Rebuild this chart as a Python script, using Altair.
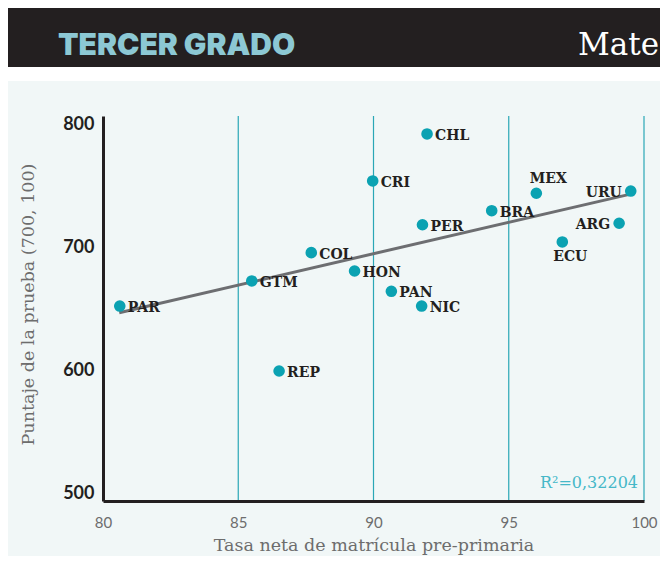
import altair as alt
import pandas as pd

# ---- data ----
names = ["PAR", "GTM", "REP", "COL", "HON", "CRI", "PAN", "NIC", "PER", "CHL",
         "BRA", "MEX", "ECU", "ARG", "URU"]
tasa = [80.62, 85.50, 86.51, 87.70, 89.30, 89.97, 90.66, 91.78, 91.81, 91.98,
        94.37, 96.02, 96.98, 99.08, 99.51]
puntaje = [652.8, 673.2, 600.0, 696.2, 681.3, 754.5, 664.8, 652.8, 718.9, 792.7,
           730.3, 744.5, 704.9, 720.1, 746.3]

trend_x = [80.6, 99.5]
trend_y = [647.4, 743.8]

grid_x = [85, 90, 95, 100]
x_ticks = [80, 85, 90, 95, 100]
y_ticks = [500, 600, 700, 800]

labels_left = ["URU", "ARG"]
labels_above = ["MEX"]
labels_below = ["ECU"]

header_left = "TERCER GRADO"
header_right = "Mate"
r2_label = "R²=0,32204"
x_title = "Tasa neta de matrícula pre-primaria"
y_title = "Puntaje de la prueba (700, 100)"

# ---- styling ----
TEAL = "#0ba2b2"
GRID = "#2aa7b6"
DARK = "#231f20"
GREY = "#6d6d6d"
PANEL = "#f1f7f7"
W, H = 541, 385

df = pd.DataFrame({"name": names, "tasa": tasa, "puntaje": puntaje})
trend_df = pd.DataFrame({"tasa": trend_x, "puntaje": trend_y})
grid_df = pd.DataFrame({"tasa": grid_x})
one = pd.DataFrame({"k": [0]})

xscale = alt.Scale(domain=[80, 100], nice=False, zero=False)
yscale = alt.Scale(domain=[494.3, 807.3], nice=False, zero=False)

xaxis = alt.Axis(values=x_ticks, grid=False, ticks=False, tickSize=0,
                 domainColor=DARK, domainWidth=3,
                 labelFont="Lato", labelFontSize=15, labelColor=GREY,
                 labelPadding=14, labelFlush=False,
                 title=x_title, titleFont="DejaVu Serif", titleFontSize=17.5,
                 titleFontWeight="normal", titleColor=GREY,
                 titleBaseline="alphabetic", titleY=49, zindex=1)
yaxis = alt.Axis(values=y_ticks, grid=False, ticks=False, tickSize=0,
                 domainColor=DARK, domainWidth=3,
                 labelFont="Lato", labelFontSize=18, labelFontWeight="bold",
                 labelColor=DARK, labelPadding=9,
                 title=y_title, titleFont="DejaVu Serif", titleFontSize=17.5,
                 titleFontWeight="normal", titleColor=GREY,
                 titleBaseline="alphabetic", titleAngle=270,
                 titleX=-70, titleY=188, zindex=1)

panel = alt.Chart(one).mark_rect(color=PANEL).encode(
    x=alt.value(-95), x2=alt.value(557), y=alt.value(-35), y2=alt.value(440))
band = alt.Chart(one).mark_rect(color=DARK).encode(
    x=alt.value(-95), x2=alt.value(557), y=alt.value(-108), y2=alt.value(-49))
head_l = alt.Chart(one).mark_text(
    text=header_left, font="Inter", fontWeight=900, fontSize=30,
    color="#8cc8d4", align="left", baseline="alphabetic").encode(
    x=alt.value(-45), y=alt.value(-61))
head_r = alt.Chart(one).mark_text(
    text=header_right, font="DejaVu Serif", fontSize=31,
    color="white", align="left", baseline="alphabetic").encode(
    x=alt.value(475), y=alt.value(-61))

rules = alt.Chart(grid_df).mark_rule(color=GRID, strokeWidth=1.2).encode(
    x=alt.X("tasa:Q", scale=xscale), y=alt.value(0), y2=alt.value(H))

trend = alt.Chart(trend_df).mark_line(color="#6d6e71", strokeWidth=3).encode(
    x=alt.X("tasa:Q", scale=xscale), y=alt.Y("puntaje:Q", scale=yscale))

points = alt.Chart(df).mark_circle(size=135, color=TEAL, opacity=1).encode(
    x=alt.X("tasa:Q", scale=xscale, axis=xaxis),
    y=alt.Y("puntaje:Q", scale=yscale, axis=yaxis))

lab_style = dict(font="DejaVu Serif", fontWeight="bold", fontSize=14,
                 color=DARK, baseline="middle")
special = labels_left + labels_above + labels_below
enc = dict(x=alt.X("tasa:Q", scale=xscale), y=alt.Y("puntaje:Q", scale=yscale),
           text="name:N")

lab_right = alt.Chart(df).transform_filter(
    ~alt.FieldOneOfPredicate(field="name", oneOf=special)
).mark_text(align="left", dx=8, dy=2, **lab_style).encode(**enc)
lab_left = alt.Chart(df).transform_filter(
    alt.FieldOneOfPredicate(field="name", oneOf=labels_left)
).mark_text(align="right", dx=-9, dy=2, **lab_style).encode(**enc)
lab_above = alt.Chart(df).transform_filter(
    alt.FieldOneOfPredicate(field="name", oneOf=labels_above)
).mark_text(align="center", dx=12, dy=-14, **lab_style).encode(**enc)
lab_below = alt.Chart(df).transform_filter(
    alt.FieldOneOfPredicate(field="name", oneOf=labels_below)
).mark_text(align="center", dx=8, dy=15, **lab_style).encode(**enc)

r2 = alt.Chart(one).mark_text(
    text=r2_label, font="DejaVu Serif", fontSize=16, color="#45b8c8",
    align="right", baseline="alphabetic").encode(
    x=alt.value(535), y=alt.value(372))

chart = alt.layer(
    panel, band, head_l, head_r, rules, trend, points,
    lab_right, lab_left, lab_above, lab_below, r2
).properties(
    width=W, height=H, autosize="none",
    padding={"left": 95, "top": 108, "right": 16, "bottom": 55},
    background="white"
).configure_view(stroke=None)

chart.save("out.html", embed_options={"renderer": "svg", "actions": False})
